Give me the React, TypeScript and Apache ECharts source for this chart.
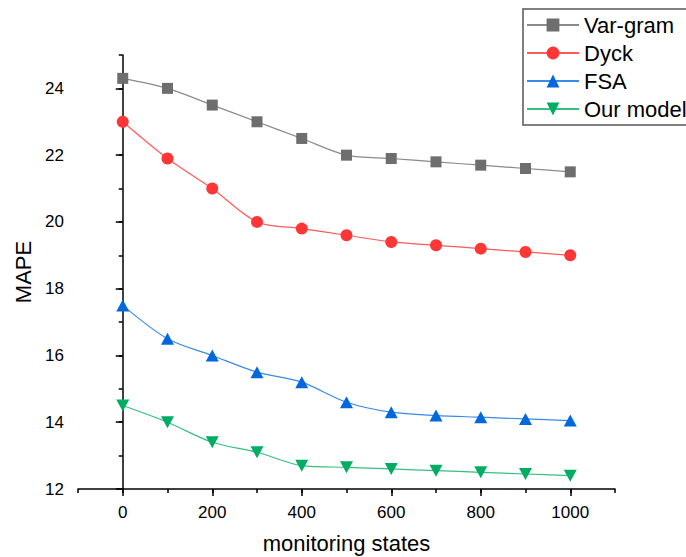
import React, { useEffect, useRef } from "react";
import * as echarts from "echarts";

const xValues = [0, 100, 200, 300, 400, 500, 600, 700, 800, 900, 1000];
const varGram = [24.3, 24.0, 23.5, 23.0, 22.5, 22.0, 21.9, 21.8, 21.7, 21.6, 21.5];
const dyck = [23.0, 21.9, 21.0, 20.0, 19.8, 19.6, 19.4, 19.3, 19.2, 19.1, 19.0];
const fsa = [17.5, 16.5, 16.0, 15.5, 15.2, 14.6, 14.3, 14.2, 14.15, 14.1, 14.05];
const ourModel = [14.5, 14.0, 13.4, 13.1, 12.7, 12.65, 12.6, 12.55, 12.5, 12.45, 12.4];
const xLabelValues = [0, 200, 400, 600, 800, 1000];
const yLabelValues = [12, 14, 16, 18, 20, 22, 24];

const FONT = "'Liberation Sans', Arial, sans-serif";

export default function App() {
  const ref = useRef<HTMLDivElement>(null);
  useEffect(() => {
    if (!ref.current) return;
    document.body.style.margin = "0";
    const chart = echarts.init(ref.current, undefined, { renderer: "svg" });
    const mk = (name: string, data: number[], symbol: string, size: any, mColor: string, lColor: string, rot = 0) => ({
      name,
      type: "line",
      data: xValues.map((x, i) => [x, data[i]]),
      symbol,
      symbolSize: size,
      symbolRotate: rot,
      smooth: 0.3,
      itemStyle: { color: mColor, opacity: 1 },
      lineStyle: { color: lColor, width: 1.2 },
      xAxisIndex: 0,
      yAxisIndex: 0,
    });
    const axisLineStyle = { color: "#000", width: 1.5 };
    chart.setOption({
      animation: false,
      textStyle: { fontFamily: FONT },
      grid: { left: 78, right: 71, top: 55, bottom: 68, containLabel: false, outerBoundsMode: "none" },
      legend: {
        orient: "vertical",
        left: 523,
        top: 9,
        padding: [5, 200, 5, 3],
        itemWidth: 52,
        itemHeight: 16,
        itemGap: 6,
        borderColor: "#555",
        borderWidth: 1.5,
        textStyle: { fontSize: 22, lineHeight: 22, color: "#000", fontFamily: FONT },
        data: ["Var-gram", "Dyck", "FSA", "Our model"],
      },
      xAxis: [
        {
          type: "value",
          min: -100,
          max: 1100,
          interval: 100,
          name: "monitoring states",
          nameLocation: "middle",
          nameGap: 43,
          nameTextStyle: { fontSize: 22, color: "#000", fontFamily: FONT },
          axisLine: { show: true, lineStyle: axisLineStyle },
          axisTick: { show: true, length: 7, customValues: xLabelValues, lineStyle: axisLineStyle },
          axisLabel: {
            customValues: xLabelValues,
            fontSize: 17,
            margin: 15,
            color: "#000",
            fontFamily: FONT,
            formatter: (v: number) => String(v),
          },
          splitLine: { show: false },
        },
        {
          type: "value",
          min: -100,
          max: 1100,
          interval: 100,
          position: "bottom",
          axisLine: { show: false },
          axisTick: { show: true, length: 4, lineStyle: axisLineStyle },
          axisLabel: { show: false },
          splitLine: { show: false },
        },
      ],
      yAxis: [
        {
          type: "value",
          min: 12,
          max: 25,
          interval: 1,
          name: "MAPE",
          nameLocation: "middle",
          nameGap: 39,
          nameTextStyle: { fontSize: 22, color: "#000", fontFamily: FONT },
          axisLine: { show: true, lineStyle: axisLineStyle },
          axisTick: { show: true, length: 7, customValues: yLabelValues, lineStyle: axisLineStyle },
          axisLabel: { customValues: yLabelValues, fontSize: 17, margin: 14, color: "#000", fontFamily: FONT },
          splitLine: { show: false },
        },
        {
          type: "value",
          min: 12,
          max: 25,
          interval: 1,
          position: "left",
          axisLine: { show: false },
          axisTick: { show: true, length: 4, lineStyle: axisLineStyle },
          axisLabel: { show: false },
          splitLine: { show: false },
        },
      ],
      series: [
        mk("Var-gram", varGram, "rect", 11, "#6e6e6e", "#8a8a8a"),
        mk("Dyck", dyck, "circle", 12, "#ff3636", "#ff5a5a"),
        mk("FSA", fsa, "triangle", [13, 12], "#0068dc", "#3a8ae8"),
        mk("Our model", ourModel, "triangle", [13, 12], "#00ad62", "#35c080", 180),
      ],
    });
    return () => chart.dispose();
  }, []);
  return <div ref={ref} style={{ width: 686, height: 557 }} />;
}
